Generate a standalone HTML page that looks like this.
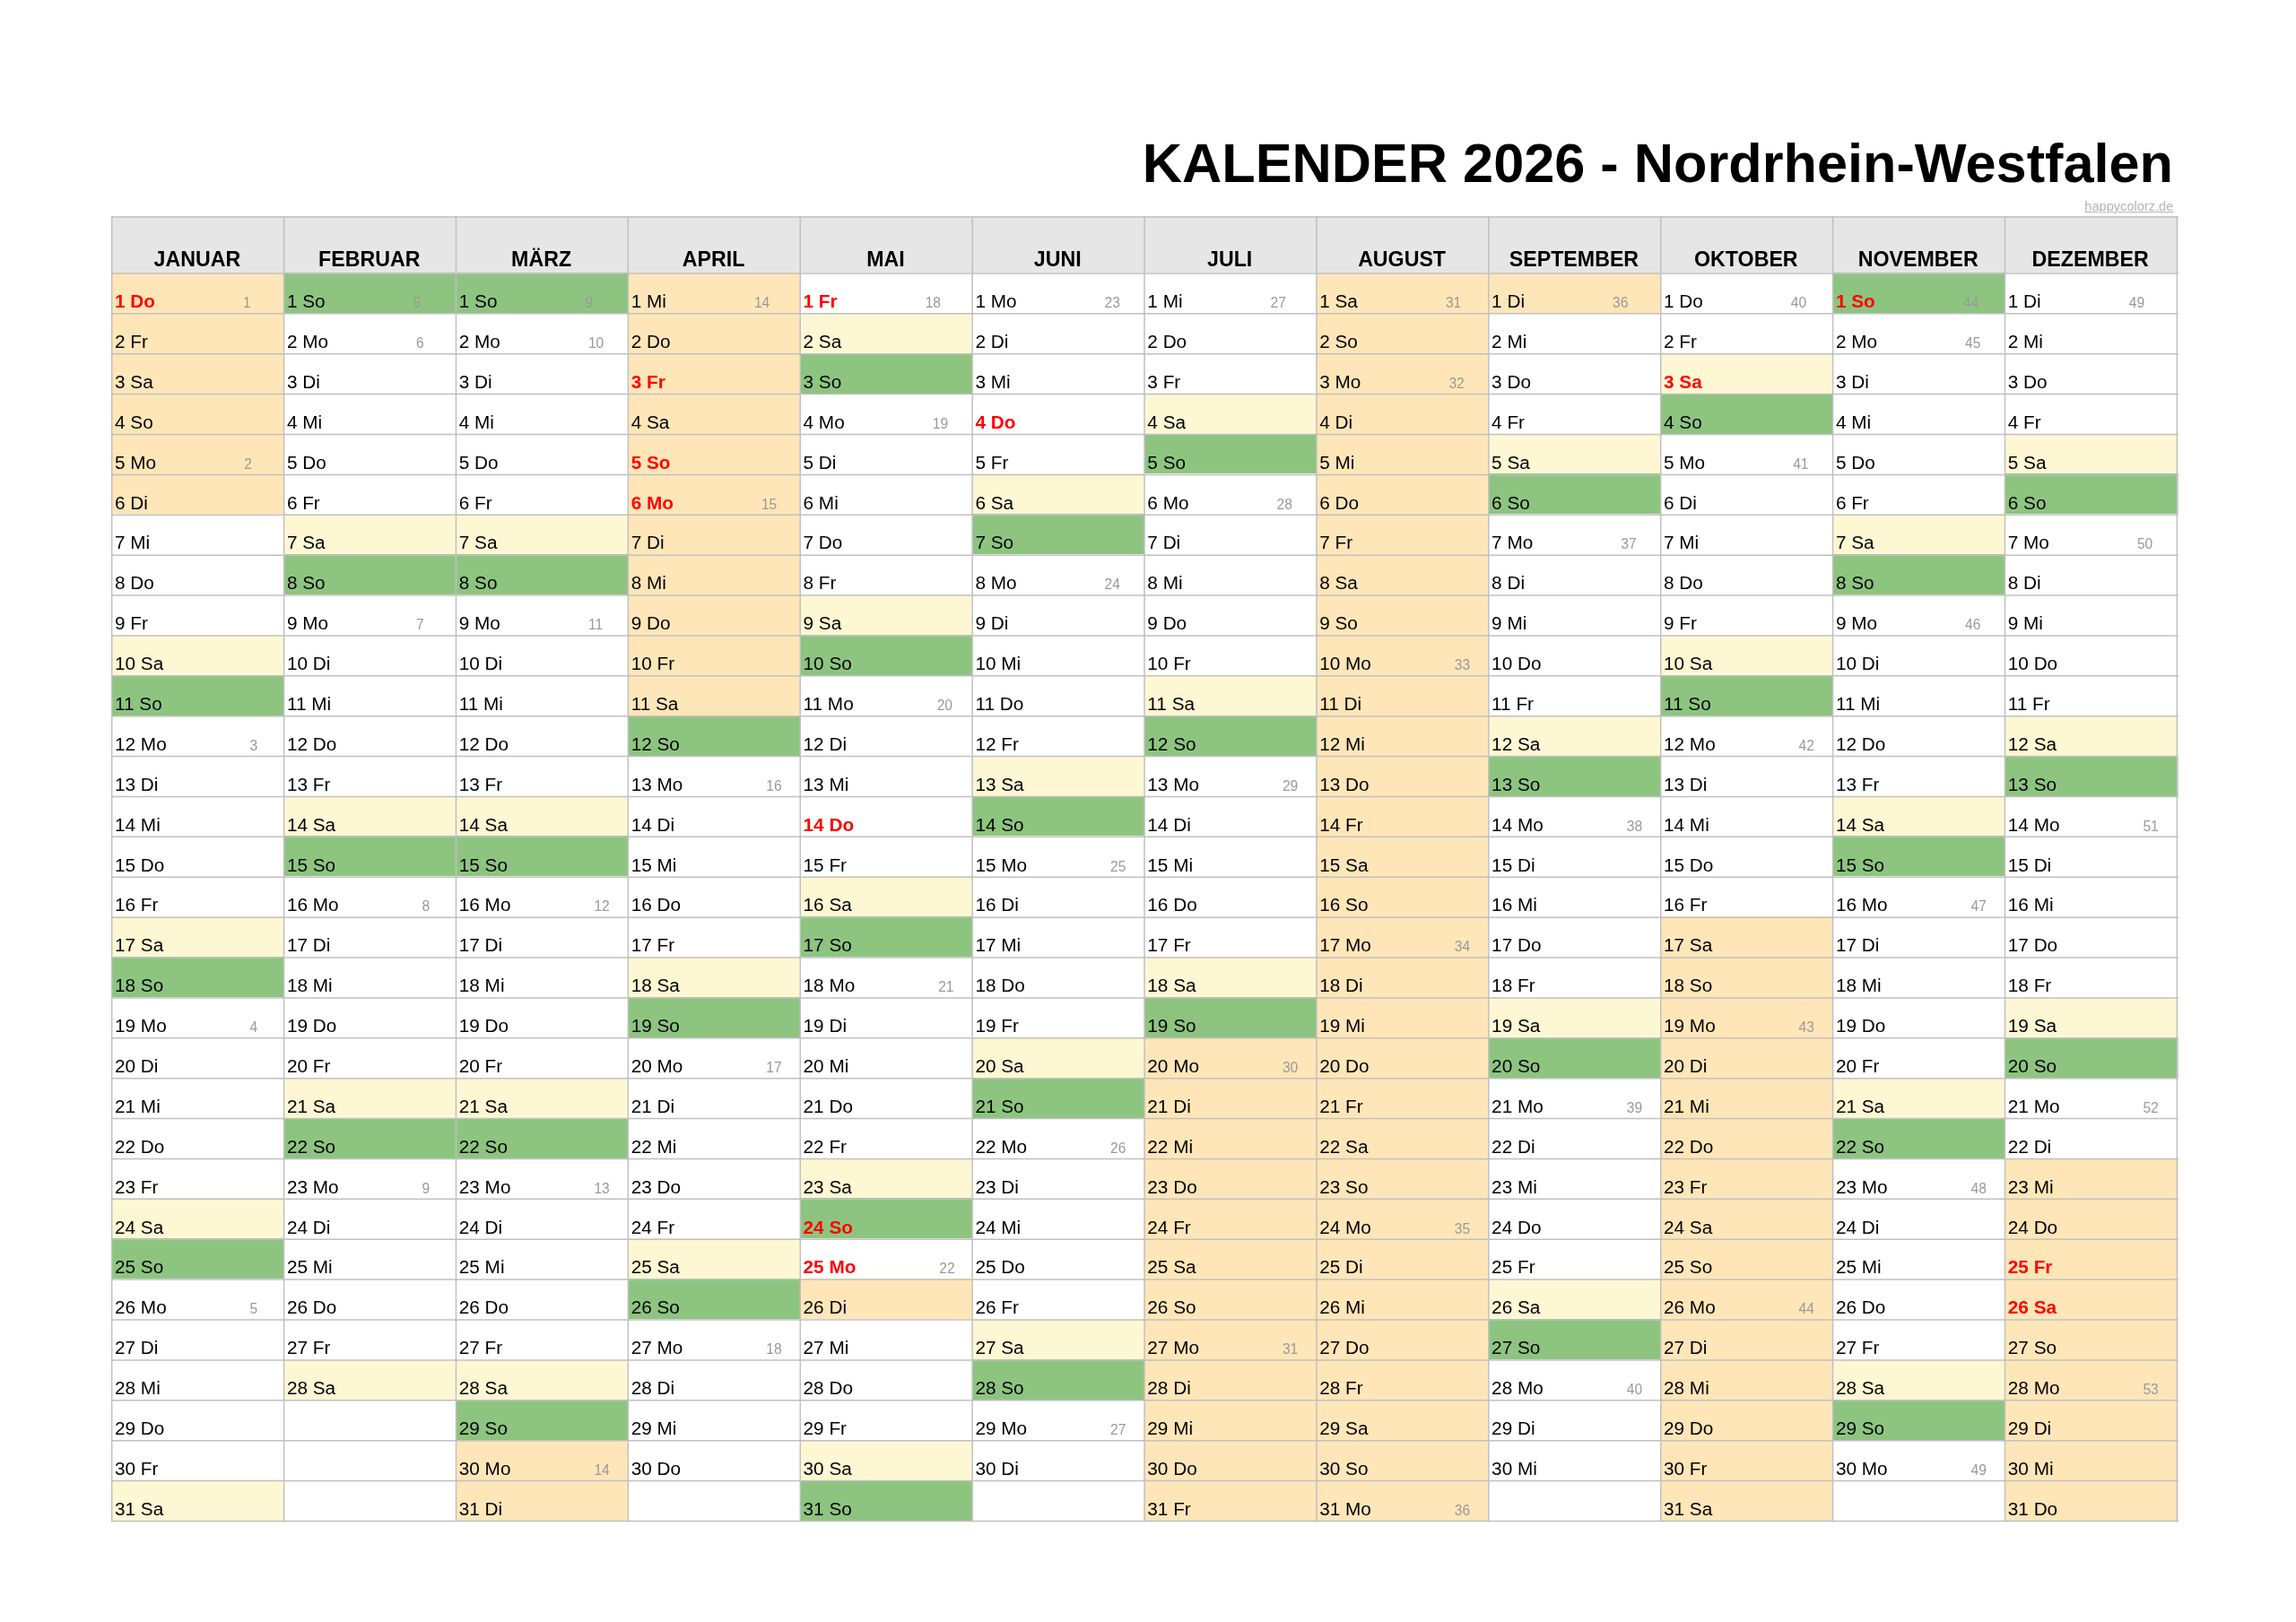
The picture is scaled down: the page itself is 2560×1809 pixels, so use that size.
<!DOCTYPE html>
<html lang="de"><head><meta charset="utf-8"><title>Kalender 2026 - Nordrhein-Westfalen</title>
<style>
html,body{margin:0;padding:0;background:#fff;}
body{width:2560px;height:1809px;position:relative;overflow:hidden;font-family:"Liberation Sans",sans-serif;color:#000;}
.t{position:absolute;white-space:pre;margin:0;padding:0;}
.b{font-weight:bold;}
.r{font-weight:bold;color:#ff0000;}
.w{color:#999999;font-weight:normal;font-size:15.6px;}
.w2{padding-left:0.7px;}
.n{font-weight:normal;}
.c{position:absolute;}
svg{position:absolute;left:0;top:0;}
#txt{position:absolute;left:0;top:0;width:2560px;height:1809px;will-change:transform;}
</style></head><body>
<div class="c" style="left:124px;top:241px;width:2303px;height:63px;background:#e6e6e6"></div>
<div class="c" style="left:124px;top:304px;width:192px;height:45px;background:#ffe6b8"></div>
<div class="c" style="left:124px;top:349px;width:192px;height:45px;background:#ffe6b8"></div>
<div class="c" style="left:124px;top:394px;width:192px;height:45px;background:#ffe6b8"></div>
<div class="c" style="left:124px;top:439px;width:192px;height:45px;background:#ffe6b8"></div>
<div class="c" style="left:124px;top:484px;width:192px;height:44px;background:#ffe6b8"></div>
<div class="c" style="left:124px;top:528px;width:192px;height:45px;background:#ffe6b8"></div>
<div class="c" style="left:124px;top:708px;width:192px;height:45px;background:#fef7d4"></div>
<div class="c" style="left:124px;top:753px;width:192px;height:45px;background:#8dc580"></div>
<div class="c" style="left:124px;top:1022px;width:192px;height:45px;background:#fef7d4"></div>
<div class="c" style="left:124px;top:1067px;width:192px;height:45px;background:#8dc580"></div>
<div class="c" style="left:124px;top:1336px;width:192px;height:45px;background:#fef7d4"></div>
<div class="c" style="left:124px;top:1381px;width:192px;height:45px;background:#8dc580"></div>
<div class="c" style="left:124px;top:1651px;width:192px;height:45px;background:#fef7d4"></div>
<div class="c" style="left:316px;top:304px;width:192px;height:45px;background:#8dc580"></div>
<div class="c" style="left:316px;top:573px;width:192px;height:45px;background:#fef7d4"></div>
<div class="c" style="left:316px;top:618px;width:192px;height:45px;background:#8dc580"></div>
<div class="c" style="left:316px;top:888px;width:192px;height:44px;background:#fef7d4"></div>
<div class="c" style="left:316px;top:932px;width:192px;height:45px;background:#8dc580"></div>
<div class="c" style="left:316px;top:1202px;width:192px;height:45px;background:#fef7d4"></div>
<div class="c" style="left:316px;top:1247px;width:192px;height:45px;background:#8dc580"></div>
<div class="c" style="left:316px;top:1516px;width:192px;height:45px;background:#fef7d4"></div>
<div class="c" style="left:508px;top:304px;width:192px;height:45px;background:#8dc580"></div>
<div class="c" style="left:508px;top:573px;width:192px;height:45px;background:#fef7d4"></div>
<div class="c" style="left:508px;top:618px;width:192px;height:45px;background:#8dc580"></div>
<div class="c" style="left:508px;top:888px;width:192px;height:44px;background:#fef7d4"></div>
<div class="c" style="left:508px;top:932px;width:192px;height:45px;background:#8dc580"></div>
<div class="c" style="left:508px;top:1202px;width:192px;height:45px;background:#fef7d4"></div>
<div class="c" style="left:508px;top:1247px;width:192px;height:45px;background:#8dc580"></div>
<div class="c" style="left:508px;top:1516px;width:192px;height:45px;background:#fef7d4"></div>
<div class="c" style="left:508px;top:1561px;width:192px;height:45px;background:#8dc580"></div>
<div class="c" style="left:508px;top:1606px;width:192px;height:45px;background:#ffe6b8"></div>
<div class="c" style="left:508px;top:1651px;width:192px;height:45px;background:#ffe6b8"></div>
<div class="c" style="left:700px;top:304px;width:192px;height:45px;background:#ffe6b8"></div>
<div class="c" style="left:700px;top:349px;width:192px;height:45px;background:#ffe6b8"></div>
<div class="c" style="left:700px;top:394px;width:192px;height:45px;background:#ffe6b8"></div>
<div class="c" style="left:700px;top:439px;width:192px;height:45px;background:#ffe6b8"></div>
<div class="c" style="left:700px;top:484px;width:192px;height:44px;background:#ffe6b8"></div>
<div class="c" style="left:700px;top:528px;width:192px;height:45px;background:#ffe6b8"></div>
<div class="c" style="left:700px;top:573px;width:192px;height:45px;background:#ffe6b8"></div>
<div class="c" style="left:700px;top:618px;width:192px;height:45px;background:#ffe6b8"></div>
<div class="c" style="left:700px;top:663px;width:192px;height:45px;background:#ffe6b8"></div>
<div class="c" style="left:700px;top:708px;width:192px;height:45px;background:#ffe6b8"></div>
<div class="c" style="left:700px;top:753px;width:192px;height:45px;background:#ffe6b8"></div>
<div class="c" style="left:700px;top:798px;width:192px;height:45px;background:#8dc580"></div>
<div class="c" style="left:700px;top:1067px;width:192px;height:45px;background:#fef7d4"></div>
<div class="c" style="left:700px;top:1112px;width:192px;height:45px;background:#8dc580"></div>
<div class="c" style="left:700px;top:1381px;width:192px;height:45px;background:#fef7d4"></div>
<div class="c" style="left:700px;top:1426px;width:192px;height:45px;background:#8dc580"></div>
<div class="c" style="left:892px;top:349px;width:192px;height:45px;background:#fef7d4"></div>
<div class="c" style="left:892px;top:394px;width:192px;height:45px;background:#8dc580"></div>
<div class="c" style="left:892px;top:663px;width:192px;height:45px;background:#fef7d4"></div>
<div class="c" style="left:892px;top:708px;width:192px;height:45px;background:#8dc580"></div>
<div class="c" style="left:892px;top:977px;width:192px;height:45px;background:#fef7d4"></div>
<div class="c" style="left:892px;top:1022px;width:192px;height:45px;background:#8dc580"></div>
<div class="c" style="left:892px;top:1292px;width:192px;height:44px;background:#fef7d4"></div>
<div class="c" style="left:892px;top:1336px;width:192px;height:45px;background:#8dc580"></div>
<div class="c" style="left:892px;top:1426px;width:192px;height:45px;background:#ffe6b8"></div>
<div class="c" style="left:892px;top:1606px;width:192px;height:45px;background:#fef7d4"></div>
<div class="c" style="left:892px;top:1651px;width:192px;height:45px;background:#8dc580"></div>
<div class="c" style="left:1084px;top:528px;width:192px;height:45px;background:#fef7d4"></div>
<div class="c" style="left:1084px;top:573px;width:192px;height:45px;background:#8dc580"></div>
<div class="c" style="left:1084px;top:843px;width:192px;height:45px;background:#fef7d4"></div>
<div class="c" style="left:1084px;top:888px;width:192px;height:44px;background:#8dc580"></div>
<div class="c" style="left:1084px;top:1157px;width:192px;height:45px;background:#fef7d4"></div>
<div class="c" style="left:1084px;top:1202px;width:192px;height:45px;background:#8dc580"></div>
<div class="c" style="left:1084px;top:1471px;width:192px;height:45px;background:#fef7d4"></div>
<div class="c" style="left:1084px;top:1516px;width:192px;height:45px;background:#8dc580"></div>
<div class="c" style="left:1276px;top:439px;width:192px;height:45px;background:#fef7d4"></div>
<div class="c" style="left:1276px;top:484px;width:192px;height:44px;background:#8dc580"></div>
<div class="c" style="left:1276px;top:753px;width:192px;height:45px;background:#fef7d4"></div>
<div class="c" style="left:1276px;top:798px;width:192px;height:45px;background:#8dc580"></div>
<div class="c" style="left:1276px;top:1067px;width:192px;height:45px;background:#fef7d4"></div>
<div class="c" style="left:1276px;top:1112px;width:192px;height:45px;background:#8dc580"></div>
<div class="c" style="left:1276px;top:1157px;width:192px;height:45px;background:#ffe6b8"></div>
<div class="c" style="left:1276px;top:1202px;width:192px;height:45px;background:#ffe6b8"></div>
<div class="c" style="left:1276px;top:1247px;width:192px;height:45px;background:#ffe6b8"></div>
<div class="c" style="left:1276px;top:1292px;width:192px;height:44px;background:#ffe6b8"></div>
<div class="c" style="left:1276px;top:1336px;width:192px;height:45px;background:#ffe6b8"></div>
<div class="c" style="left:1276px;top:1381px;width:192px;height:45px;background:#ffe6b8"></div>
<div class="c" style="left:1276px;top:1426px;width:192px;height:45px;background:#ffe6b8"></div>
<div class="c" style="left:1276px;top:1471px;width:192px;height:45px;background:#ffe6b8"></div>
<div class="c" style="left:1276px;top:1516px;width:192px;height:45px;background:#ffe6b8"></div>
<div class="c" style="left:1276px;top:1561px;width:192px;height:45px;background:#ffe6b8"></div>
<div class="c" style="left:1276px;top:1606px;width:192px;height:45px;background:#ffe6b8"></div>
<div class="c" style="left:1276px;top:1651px;width:192px;height:45px;background:#ffe6b8"></div>
<div class="c" style="left:1468px;top:304px;width:192px;height:45px;background:#ffe6b8"></div>
<div class="c" style="left:1468px;top:349px;width:192px;height:45px;background:#ffe6b8"></div>
<div class="c" style="left:1468px;top:394px;width:192px;height:45px;background:#ffe6b8"></div>
<div class="c" style="left:1468px;top:439px;width:192px;height:45px;background:#ffe6b8"></div>
<div class="c" style="left:1468px;top:484px;width:192px;height:44px;background:#ffe6b8"></div>
<div class="c" style="left:1468px;top:528px;width:192px;height:45px;background:#ffe6b8"></div>
<div class="c" style="left:1468px;top:573px;width:192px;height:45px;background:#ffe6b8"></div>
<div class="c" style="left:1468px;top:618px;width:192px;height:45px;background:#ffe6b8"></div>
<div class="c" style="left:1468px;top:663px;width:192px;height:45px;background:#ffe6b8"></div>
<div class="c" style="left:1468px;top:708px;width:192px;height:45px;background:#ffe6b8"></div>
<div class="c" style="left:1468px;top:753px;width:192px;height:45px;background:#ffe6b8"></div>
<div class="c" style="left:1468px;top:798px;width:192px;height:45px;background:#ffe6b8"></div>
<div class="c" style="left:1468px;top:843px;width:192px;height:45px;background:#ffe6b8"></div>
<div class="c" style="left:1468px;top:888px;width:192px;height:44px;background:#ffe6b8"></div>
<div class="c" style="left:1468px;top:932px;width:192px;height:45px;background:#ffe6b8"></div>
<div class="c" style="left:1468px;top:977px;width:192px;height:45px;background:#ffe6b8"></div>
<div class="c" style="left:1468px;top:1022px;width:192px;height:45px;background:#ffe6b8"></div>
<div class="c" style="left:1468px;top:1067px;width:192px;height:45px;background:#ffe6b8"></div>
<div class="c" style="left:1468px;top:1112px;width:192px;height:45px;background:#ffe6b8"></div>
<div class="c" style="left:1468px;top:1157px;width:192px;height:45px;background:#ffe6b8"></div>
<div class="c" style="left:1468px;top:1202px;width:192px;height:45px;background:#ffe6b8"></div>
<div class="c" style="left:1468px;top:1247px;width:192px;height:45px;background:#ffe6b8"></div>
<div class="c" style="left:1468px;top:1292px;width:192px;height:44px;background:#ffe6b8"></div>
<div class="c" style="left:1468px;top:1336px;width:192px;height:45px;background:#ffe6b8"></div>
<div class="c" style="left:1468px;top:1381px;width:192px;height:45px;background:#ffe6b8"></div>
<div class="c" style="left:1468px;top:1426px;width:192px;height:45px;background:#ffe6b8"></div>
<div class="c" style="left:1468px;top:1471px;width:192px;height:45px;background:#ffe6b8"></div>
<div class="c" style="left:1468px;top:1516px;width:192px;height:45px;background:#ffe6b8"></div>
<div class="c" style="left:1468px;top:1561px;width:192px;height:45px;background:#ffe6b8"></div>
<div class="c" style="left:1468px;top:1606px;width:192px;height:45px;background:#ffe6b8"></div>
<div class="c" style="left:1468px;top:1651px;width:192px;height:45px;background:#ffe6b8"></div>
<div class="c" style="left:1660px;top:304px;width:191px;height:45px;background:#ffe6b8"></div>
<div class="c" style="left:1660px;top:484px;width:191px;height:44px;background:#fef7d4"></div>
<div class="c" style="left:1660px;top:528px;width:191px;height:45px;background:#8dc580"></div>
<div class="c" style="left:1660px;top:798px;width:191px;height:45px;background:#fef7d4"></div>
<div class="c" style="left:1660px;top:843px;width:191px;height:45px;background:#8dc580"></div>
<div class="c" style="left:1660px;top:1112px;width:191px;height:45px;background:#fef7d4"></div>
<div class="c" style="left:1660px;top:1157px;width:191px;height:45px;background:#8dc580"></div>
<div class="c" style="left:1660px;top:1426px;width:191px;height:45px;background:#fef7d4"></div>
<div class="c" style="left:1660px;top:1471px;width:191px;height:45px;background:#8dc580"></div>
<div class="c" style="left:1851px;top:394px;width:192px;height:45px;background:#fef7d4"></div>
<div class="c" style="left:1851px;top:439px;width:192px;height:45px;background:#8dc580"></div>
<div class="c" style="left:1851px;top:708px;width:192px;height:45px;background:#fef7d4"></div>
<div class="c" style="left:1851px;top:753px;width:192px;height:45px;background:#8dc580"></div>
<div class="c" style="left:1851px;top:1022px;width:192px;height:45px;background:#ffe6b8"></div>
<div class="c" style="left:1851px;top:1067px;width:192px;height:45px;background:#ffe6b8"></div>
<div class="c" style="left:1851px;top:1112px;width:192px;height:45px;background:#ffe6b8"></div>
<div class="c" style="left:1851px;top:1157px;width:192px;height:45px;background:#ffe6b8"></div>
<div class="c" style="left:1851px;top:1202px;width:192px;height:45px;background:#ffe6b8"></div>
<div class="c" style="left:1851px;top:1247px;width:192px;height:45px;background:#ffe6b8"></div>
<div class="c" style="left:1851px;top:1292px;width:192px;height:44px;background:#ffe6b8"></div>
<div class="c" style="left:1851px;top:1336px;width:192px;height:45px;background:#ffe6b8"></div>
<div class="c" style="left:1851px;top:1381px;width:192px;height:45px;background:#ffe6b8"></div>
<div class="c" style="left:1851px;top:1426px;width:192px;height:45px;background:#ffe6b8"></div>
<div class="c" style="left:1851px;top:1471px;width:192px;height:45px;background:#ffe6b8"></div>
<div class="c" style="left:1851px;top:1516px;width:192px;height:45px;background:#ffe6b8"></div>
<div class="c" style="left:1851px;top:1561px;width:192px;height:45px;background:#ffe6b8"></div>
<div class="c" style="left:1851px;top:1606px;width:192px;height:45px;background:#ffe6b8"></div>
<div class="c" style="left:1851px;top:1651px;width:192px;height:45px;background:#ffe6b8"></div>
<div class="c" style="left:2043px;top:304px;width:192px;height:45px;background:#8dc580"></div>
<div class="c" style="left:2043px;top:573px;width:192px;height:45px;background:#fef7d4"></div>
<div class="c" style="left:2043px;top:618px;width:192px;height:45px;background:#8dc580"></div>
<div class="c" style="left:2043px;top:888px;width:192px;height:44px;background:#fef7d4"></div>
<div class="c" style="left:2043px;top:932px;width:192px;height:45px;background:#8dc580"></div>
<div class="c" style="left:2043px;top:1202px;width:192px;height:45px;background:#fef7d4"></div>
<div class="c" style="left:2043px;top:1247px;width:192px;height:45px;background:#8dc580"></div>
<div class="c" style="left:2043px;top:1516px;width:192px;height:45px;background:#fef7d4"></div>
<div class="c" style="left:2043px;top:1561px;width:192px;height:45px;background:#8dc580"></div>
<div class="c" style="left:2235px;top:484px;width:192px;height:44px;background:#fef7d4"></div>
<div class="c" style="left:2235px;top:528px;width:192px;height:45px;background:#8dc580"></div>
<div class="c" style="left:2235px;top:798px;width:192px;height:45px;background:#fef7d4"></div>
<div class="c" style="left:2235px;top:843px;width:192px;height:45px;background:#8dc580"></div>
<div class="c" style="left:2235px;top:1112px;width:192px;height:45px;background:#fef7d4"></div>
<div class="c" style="left:2235px;top:1157px;width:192px;height:45px;background:#8dc580"></div>
<div class="c" style="left:2235px;top:1292px;width:192px;height:44px;background:#ffe6b8"></div>
<div class="c" style="left:2235px;top:1336px;width:192px;height:45px;background:#ffe6b8"></div>
<div class="c" style="left:2235px;top:1381px;width:192px;height:45px;background:#ffe6b8"></div>
<div class="c" style="left:2235px;top:1426px;width:192px;height:45px;background:#ffe6b8"></div>
<div class="c" style="left:2235px;top:1471px;width:192px;height:45px;background:#ffe6b8"></div>
<div class="c" style="left:2235px;top:1516px;width:192px;height:45px;background:#ffe6b8"></div>
<div class="c" style="left:2235px;top:1561px;width:192px;height:45px;background:#ffe6b8"></div>
<div class="c" style="left:2235px;top:1606px;width:192px;height:45px;background:#ffe6b8"></div>
<div class="c" style="left:2235px;top:1651px;width:192px;height:45px;background:#ffe6b8"></div>
<svg width="2560" height="1809" viewBox="0 0 2560 1809"><rect x="2427.38" y="484" width="1.15" height="44" fill="#fef7d4"/><rect x="2427.38" y="528" width="1.15" height="45" fill="#8dc580"/><rect x="2427.38" y="798" width="1.15" height="45" fill="#fef7d4"/><rect x="2427.38" y="843" width="1.15" height="45" fill="#8dc580"/><rect x="2427.38" y="1112" width="1.15" height="45" fill="#fef7d4"/><rect x="2427.38" y="1157" width="1.15" height="45" fill="#8dc580"/><rect x="2427.38" y="1292" width="1.15" height="44" fill="#ffe6b8"/><rect x="2427.38" y="1336" width="1.15" height="45" fill="#ffe6b8"/><rect x="2427.38" y="1381" width="1.15" height="45" fill="#ffe6b8"/><rect x="2427.38" y="1426" width="1.15" height="45" fill="#ffe6b8"/><rect x="2427.38" y="1471" width="1.15" height="45" fill="#ffe6b8"/><rect x="2427.38" y="1516" width="1.15" height="45" fill="#ffe6b8"/><rect x="2427.38" y="1561" width="1.15" height="45" fill="#ffe6b8"/><rect x="2427.38" y="1606" width="1.15" height="45" fill="#ffe6b8"/><rect x="2427.38" y="1651" width="1.15" height="45" fill="#ffe6b8"/><rect x="2427.38" y="241" width="1.15" height="63" fill="#e6e6e6"/><g stroke="#c0c0c0" stroke-width="1.5" fill="none"><line x1="124.70" y1="241.35" x2="124.70" y2="1697.20"/><line x1="316.59" y1="241.35" x2="316.59" y2="1697.20"/><line x1="508.48" y1="241.35" x2="508.48" y2="1697.20"/><line x1="700.37" y1="241.35" x2="700.37" y2="1697.20"/><line x1="892.26" y1="241.35" x2="892.26" y2="1697.20"/><line x1="1084.15" y1="241.35" x2="1084.15" y2="1697.20"/><line x1="1276.04" y1="241.35" x2="1276.04" y2="1697.20"/><line x1="1467.93" y1="241.35" x2="1467.93" y2="1697.20"/><line x1="1659.82" y1="241.35" x2="1659.82" y2="1697.20"/><line x1="1851.71" y1="241.35" x2="1851.71" y2="1697.20"/><line x1="2043.60" y1="241.35" x2="2043.60" y2="1697.20"/><line x1="2235.49" y1="241.35" x2="2235.49" y2="1697.20"/><line x1="2427.38" y1="241.35" x2="2427.38" y2="1697.20"/><line x1="123.95" y1="242.10" x2="2429.03" y2="242.10"/><line x1="123.95" y1="304.95" x2="2429.03" y2="304.95"/><line x1="123.95" y1="349.84" x2="2429.03" y2="349.84"/><line x1="123.95" y1="394.72" x2="2429.03" y2="394.72"/><line x1="123.95" y1="439.61" x2="2429.03" y2="439.61"/><line x1="123.95" y1="484.50" x2="2429.03" y2="484.50"/><line x1="123.95" y1="529.38" x2="2429.03" y2="529.38"/><line x1="123.95" y1="574.27" x2="2429.03" y2="574.27"/><line x1="123.95" y1="619.16" x2="2429.03" y2="619.16"/><line x1="123.95" y1="664.05" x2="2429.03" y2="664.05"/><line x1="123.95" y1="708.93" x2="2429.03" y2="708.93"/><line x1="123.95" y1="753.82" x2="2429.03" y2="753.82"/><line x1="123.95" y1="798.71" x2="2429.03" y2="798.71"/><line x1="123.95" y1="843.59" x2="2429.03" y2="843.59"/><line x1="123.95" y1="888.48" x2="2429.03" y2="888.48"/><line x1="123.95" y1="933.37" x2="2429.03" y2="933.37"/><line x1="123.95" y1="978.26" x2="2429.03" y2="978.26"/><line x1="123.95" y1="1023.14" x2="2429.03" y2="1023.14"/><line x1="123.95" y1="1068.03" x2="2429.03" y2="1068.03"/><line x1="123.95" y1="1112.92" x2="2429.03" y2="1112.92"/><line x1="123.95" y1="1157.80" x2="2429.03" y2="1157.80"/><line x1="123.95" y1="1202.69" x2="2429.03" y2="1202.69"/><line x1="123.95" y1="1247.58" x2="2429.03" y2="1247.58"/><line x1="123.95" y1="1292.46" x2="2429.03" y2="1292.46"/><line x1="123.95" y1="1337.35" x2="2429.03" y2="1337.35"/><line x1="123.95" y1="1382.24" x2="2429.03" y2="1382.24"/><line x1="123.95" y1="1427.12" x2="2429.03" y2="1427.12"/><line x1="123.95" y1="1472.01" x2="2429.03" y2="1472.01"/><line x1="123.95" y1="1516.90" x2="2429.03" y2="1516.90"/><line x1="123.95" y1="1561.79" x2="2429.03" y2="1561.79"/><line x1="123.95" y1="1606.67" x2="2429.03" y2="1606.67"/><line x1="123.95" y1="1651.56" x2="2429.03" y2="1651.56"/><line x1="123.95" y1="1696.45" x2="2429.03" y2="1696.45"/></g></svg>
<div id="txt">
<div class="t b" style="right:137.00px;top:146px;font-size:61.25px;line-height:72px;">KALENDER 2026 - Nordrhein-Westfalen</div>
<div class="t " style="right:136.70px;top:220px;font-size:14.6px;line-height:20px;color:#b3b3b3;text-decoration:underline;">happycolorz.de</div>
<div class="t b" style="left:19.84px;width:400px;text-align:center;top:274px;font-size:23.2px;line-height:30px;">JANUAR</div>
<div class="t b" style="left:211.73px;width:400px;text-align:center;top:274px;font-size:23.2px;line-height:30px;">FEBRUAR</div>
<div class="t b" style="left:403.62px;width:400px;text-align:center;top:274px;font-size:23.2px;line-height:30px;">MÄRZ</div>
<div class="t b" style="left:595.52px;width:400px;text-align:center;top:274px;font-size:23.2px;line-height:30px;">APRIL</div>
<div class="t b" style="left:787.40px;width:400px;text-align:center;top:274px;font-size:23.2px;line-height:30px;">MAI</div>
<div class="t b" style="left:979.29px;width:400px;text-align:center;top:274px;font-size:23.2px;line-height:30px;">JUNI</div>
<div class="t b" style="left:1171.19px;width:400px;text-align:center;top:274px;font-size:23.2px;line-height:30px;">JULI</div>
<div class="t b" style="left:1363.08px;width:400px;text-align:center;top:274px;font-size:23.2px;line-height:30px;">AUGUST</div>
<div class="t b" style="left:1554.96px;width:400px;text-align:center;top:274px;font-size:23.2px;line-height:30px;">SEPTEMBER</div>
<div class="t b" style="left:1746.85px;width:400px;text-align:center;top:274px;font-size:23.2px;line-height:30px;">OKTOBER</div>
<div class="t b" style="left:1938.74px;width:400px;text-align:center;top:274px;font-size:23.2px;line-height:30px;">NOVEMBER</div>
<div class="t b" style="left:2130.63px;width:400px;text-align:center;top:274px;font-size:23.2px;line-height:30px;">DEZEMBER</div>
<div class="t r" style="left:128.00px;top:322px;font-size:20.75px;line-height:27px;">1 Do<span class="n">                 </span><span class="w">1</span></div>
<div class="t " style="left:128.00px;top:367px;font-size:20.75px;line-height:27px;">2 Fr</div>
<div class="t " style="left:128.00px;top:412px;font-size:20.75px;line-height:27px;">3 Sa</div>
<div class="t " style="left:128.00px;top:457px;font-size:20.75px;line-height:27px;">4 So</div>
<div class="t " style="left:128.00px;top:502px;font-size:20.75px;line-height:27px;">5 Mo<span class="n">                 </span><span class="w">2</span></div>
<div class="t " style="left:128.00px;top:547px;font-size:20.75px;line-height:27px;">6 Di</div>
<div class="t " style="left:128.00px;top:591px;font-size:20.75px;line-height:27px;">7 Mi</div>
<div class="t " style="left:128.00px;top:636px;font-size:20.75px;line-height:27px;">8 Do</div>
<div class="t " style="left:128.00px;top:681px;font-size:20.75px;line-height:27px;">9 Fr</div>
<div class="t " style="left:128.00px;top:726px;font-size:20.75px;line-height:27px;">10 Sa</div>
<div class="t " style="left:128.00px;top:771px;font-size:20.75px;line-height:27px;">11 So</div>
<div class="t " style="left:128.00px;top:816px;font-size:20.75px;line-height:27px;">12 Mo<span class="n">                </span><span class="w w2">3</span></div>
<div class="t " style="left:128.00px;top:861px;font-size:20.75px;line-height:27px;">13 Di</div>
<div class="t " style="left:128.00px;top:906px;font-size:20.75px;line-height:27px;">14 Mi</div>
<div class="t " style="left:128.00px;top:951px;font-size:20.75px;line-height:27px;">15 Do</div>
<div class="t " style="left:128.00px;top:995px;font-size:20.75px;line-height:27px;">16 Fr</div>
<div class="t " style="left:128.00px;top:1040px;font-size:20.75px;line-height:27px;">17 Sa</div>
<div class="t " style="left:128.00px;top:1085px;font-size:20.75px;line-height:27px;">18 So</div>
<div class="t " style="left:128.00px;top:1130px;font-size:20.75px;line-height:27px;">19 Mo<span class="n">                </span><span class="w w2">4</span></div>
<div class="t " style="left:128.00px;top:1175px;font-size:20.75px;line-height:27px;">20 Di</div>
<div class="t " style="left:128.00px;top:1220px;font-size:20.75px;line-height:27px;">21 Mi</div>
<div class="t " style="left:128.00px;top:1265px;font-size:20.75px;line-height:27px;">22 Do</div>
<div class="t " style="left:128.00px;top:1310px;font-size:20.75px;line-height:27px;">23 Fr</div>
<div class="t " style="left:128.00px;top:1355px;font-size:20.75px;line-height:27px;">24 Sa</div>
<div class="t " style="left:128.00px;top:1399px;font-size:20.75px;line-height:27px;">25 So</div>
<div class="t " style="left:128.00px;top:1444px;font-size:20.75px;line-height:27px;">26 Mo<span class="n">                </span><span class="w w2">5</span></div>
<div class="t " style="left:128.00px;top:1489px;font-size:20.75px;line-height:27px;">27 Di</div>
<div class="t " style="left:128.00px;top:1534px;font-size:20.75px;line-height:27px;">28 Mi</div>
<div class="t " style="left:128.00px;top:1579px;font-size:20.75px;line-height:27px;">29 Do</div>
<div class="t " style="left:128.00px;top:1624px;font-size:20.75px;line-height:27px;">30 Fr</div>
<div class="t " style="left:128.00px;top:1669px;font-size:20.75px;line-height:27px;">31 Sa</div>
<div class="t " style="left:319.89px;top:322px;font-size:20.75px;line-height:27px;">1 So<span class="n">                 </span><span class="w">5</span></div>
<div class="t " style="left:319.89px;top:367px;font-size:20.75px;line-height:27px;">2 Mo<span class="n">                 </span><span class="w">6</span></div>
<div class="t " style="left:319.89px;top:412px;font-size:20.75px;line-height:27px;">3 Di</div>
<div class="t " style="left:319.89px;top:457px;font-size:20.75px;line-height:27px;">4 Mi</div>
<div class="t " style="left:319.89px;top:502px;font-size:20.75px;line-height:27px;">5 Do</div>
<div class="t " style="left:319.89px;top:547px;font-size:20.75px;line-height:27px;">6 Fr</div>
<div class="t " style="left:319.89px;top:591px;font-size:20.75px;line-height:27px;">7 Sa</div>
<div class="t " style="left:319.89px;top:636px;font-size:20.75px;line-height:27px;">8 So</div>
<div class="t " style="left:319.89px;top:681px;font-size:20.75px;line-height:27px;">9 Mo<span class="n">                 </span><span class="w">7</span></div>
<div class="t " style="left:319.89px;top:726px;font-size:20.75px;line-height:27px;">10 Di</div>
<div class="t " style="left:319.89px;top:771px;font-size:20.75px;line-height:27px;">11 Mi</div>
<div class="t " style="left:319.89px;top:816px;font-size:20.75px;line-height:27px;">12 Do</div>
<div class="t " style="left:319.89px;top:861px;font-size:20.75px;line-height:27px;">13 Fr</div>
<div class="t " style="left:319.89px;top:906px;font-size:20.75px;line-height:27px;">14 Sa</div>
<div class="t " style="left:319.89px;top:951px;font-size:20.75px;line-height:27px;">15 So</div>
<div class="t " style="left:319.89px;top:995px;font-size:20.75px;line-height:27px;">16 Mo<span class="n">                </span><span class="w w2">8</span></div>
<div class="t " style="left:319.89px;top:1040px;font-size:20.75px;line-height:27px;">17 Di</div>
<div class="t " style="left:319.89px;top:1085px;font-size:20.75px;line-height:27px;">18 Mi</div>
<div class="t " style="left:319.89px;top:1130px;font-size:20.75px;line-height:27px;">19 Do</div>
<div class="t " style="left:319.89px;top:1175px;font-size:20.75px;line-height:27px;">20 Fr</div>
<div class="t " style="left:319.89px;top:1220px;font-size:20.75px;line-height:27px;">21 Sa</div>
<div class="t " style="left:319.89px;top:1265px;font-size:20.75px;line-height:27px;">22 So</div>
<div class="t " style="left:319.89px;top:1310px;font-size:20.75px;line-height:27px;">23 Mo<span class="n">                </span><span class="w w2">9</span></div>
<div class="t " style="left:319.89px;top:1355px;font-size:20.75px;line-height:27px;">24 Di</div>
<div class="t " style="left:319.89px;top:1399px;font-size:20.75px;line-height:27px;">25 Mi</div>
<div class="t " style="left:319.89px;top:1444px;font-size:20.75px;line-height:27px;">26 Do</div>
<div class="t " style="left:319.89px;top:1489px;font-size:20.75px;line-height:27px;">27 Fr</div>
<div class="t " style="left:319.89px;top:1534px;font-size:20.75px;line-height:27px;">28 Sa</div>
<div class="t " style="left:511.78px;top:322px;font-size:20.75px;line-height:27px;">1 So<span class="n">                 </span><span class="w">9</span></div>
<div class="t " style="left:511.78px;top:367px;font-size:20.75px;line-height:27px;">2 Mo<span class="n">                 </span><span class="w">10</span></div>
<div class="t " style="left:511.78px;top:412px;font-size:20.75px;line-height:27px;">3 Di</div>
<div class="t " style="left:511.78px;top:457px;font-size:20.75px;line-height:27px;">4 Mi</div>
<div class="t " style="left:511.78px;top:502px;font-size:20.75px;line-height:27px;">5 Do</div>
<div class="t " style="left:511.78px;top:547px;font-size:20.75px;line-height:27px;">6 Fr</div>
<div class="t " style="left:511.78px;top:591px;font-size:20.75px;line-height:27px;">7 Sa</div>
<div class="t " style="left:511.78px;top:636px;font-size:20.75px;line-height:27px;">8 So</div>
<div class="t " style="left:511.78px;top:681px;font-size:20.75px;line-height:27px;">9 Mo<span class="n">                 </span><span class="w">11</span></div>
<div class="t " style="left:511.78px;top:726px;font-size:20.75px;line-height:27px;">10 Di</div>
<div class="t " style="left:511.78px;top:771px;font-size:20.75px;line-height:27px;">11 Mi</div>
<div class="t " style="left:511.78px;top:816px;font-size:20.75px;line-height:27px;">12 Do</div>
<div class="t " style="left:511.78px;top:861px;font-size:20.75px;line-height:27px;">13 Fr</div>
<div class="t " style="left:511.78px;top:906px;font-size:20.75px;line-height:27px;">14 Sa</div>
<div class="t " style="left:511.78px;top:951px;font-size:20.75px;line-height:27px;">15 So</div>
<div class="t " style="left:511.78px;top:995px;font-size:20.75px;line-height:27px;">16 Mo<span class="n">                </span><span class="w w2">12</span></div>
<div class="t " style="left:511.78px;top:1040px;font-size:20.75px;line-height:27px;">17 Di</div>
<div class="t " style="left:511.78px;top:1085px;font-size:20.75px;line-height:27px;">18 Mi</div>
<div class="t " style="left:511.78px;top:1130px;font-size:20.75px;line-height:27px;">19 Do</div>
<div class="t " style="left:511.78px;top:1175px;font-size:20.75px;line-height:27px;">20 Fr</div>
<div class="t " style="left:511.78px;top:1220px;font-size:20.75px;line-height:27px;">21 Sa</div>
<div class="t " style="left:511.78px;top:1265px;font-size:20.75px;line-height:27px;">22 So</div>
<div class="t " style="left:511.78px;top:1310px;font-size:20.75px;line-height:27px;">23 Mo<span class="n">                </span><span class="w w2">13</span></div>
<div class="t " style="left:511.78px;top:1355px;font-size:20.75px;line-height:27px;">24 Di</div>
<div class="t " style="left:511.78px;top:1399px;font-size:20.75px;line-height:27px;">25 Mi</div>
<div class="t " style="left:511.78px;top:1444px;font-size:20.75px;line-height:27px;">26 Do</div>
<div class="t " style="left:511.78px;top:1489px;font-size:20.75px;line-height:27px;">27 Fr</div>
<div class="t " style="left:511.78px;top:1534px;font-size:20.75px;line-height:27px;">28 Sa</div>
<div class="t " style="left:511.78px;top:1579px;font-size:20.75px;line-height:27px;">29 So</div>
<div class="t " style="left:511.78px;top:1624px;font-size:20.75px;line-height:27px;">30 Mo<span class="n">                </span><span class="w w2">14</span></div>
<div class="t " style="left:511.78px;top:1669px;font-size:20.75px;line-height:27px;">31 Di</div>
<div class="t " style="left:703.67px;top:322px;font-size:20.75px;line-height:27px;">1 Mi<span class="n">                 </span><span class="w">14</span></div>
<div class="t " style="left:703.67px;top:367px;font-size:20.75px;line-height:27px;">2 Do</div>
<div class="t r" style="left:703.67px;top:412px;font-size:20.75px;line-height:27px;">3 Fr</div>
<div class="t " style="left:703.67px;top:457px;font-size:20.75px;line-height:27px;">4 Sa</div>
<div class="t r" style="left:703.67px;top:502px;font-size:20.75px;line-height:27px;">5 So</div>
<div class="t r" style="left:703.67px;top:547px;font-size:20.75px;line-height:27px;">6 Mo<span class="n">                 </span><span class="w">15</span></div>
<div class="t " style="left:703.67px;top:591px;font-size:20.75px;line-height:27px;">7 Di</div>
<div class="t " style="left:703.67px;top:636px;font-size:20.75px;line-height:27px;">8 Mi</div>
<div class="t " style="left:703.67px;top:681px;font-size:20.75px;line-height:27px;">9 Do</div>
<div class="t " style="left:703.67px;top:726px;font-size:20.75px;line-height:27px;">10 Fr</div>
<div class="t " style="left:703.67px;top:771px;font-size:20.75px;line-height:27px;">11 Sa</div>
<div class="t " style="left:703.67px;top:816px;font-size:20.75px;line-height:27px;">12 So</div>
<div class="t " style="left:703.67px;top:861px;font-size:20.75px;line-height:27px;">13 Mo<span class="n">                </span><span class="w w2">16</span></div>
<div class="t " style="left:703.67px;top:906px;font-size:20.75px;line-height:27px;">14 Di</div>
<div class="t " style="left:703.67px;top:951px;font-size:20.75px;line-height:27px;">15 Mi</div>
<div class="t " style="left:703.67px;top:995px;font-size:20.75px;line-height:27px;">16 Do</div>
<div class="t " style="left:703.67px;top:1040px;font-size:20.75px;line-height:27px;">17 Fr</div>
<div class="t " style="left:703.67px;top:1085px;font-size:20.75px;line-height:27px;">18 Sa</div>
<div class="t " style="left:703.67px;top:1130px;font-size:20.75px;line-height:27px;">19 So</div>
<div class="t " style="left:703.67px;top:1175px;font-size:20.75px;line-height:27px;">20 Mo<span class="n">                </span><span class="w w2">17</span></div>
<div class="t " style="left:703.67px;top:1220px;font-size:20.75px;line-height:27px;">21 Di</div>
<div class="t " style="left:703.67px;top:1265px;font-size:20.75px;line-height:27px;">22 Mi</div>
<div class="t " style="left:703.67px;top:1310px;font-size:20.75px;line-height:27px;">23 Do</div>
<div class="t " style="left:703.67px;top:1355px;font-size:20.75px;line-height:27px;">24 Fr</div>
<div class="t " style="left:703.67px;top:1399px;font-size:20.75px;line-height:27px;">25 Sa</div>
<div class="t " style="left:703.67px;top:1444px;font-size:20.75px;line-height:27px;">26 So</div>
<div class="t " style="left:703.67px;top:1489px;font-size:20.75px;line-height:27px;">27 Mo<span class="n">                </span><span class="w w2">18</span></div>
<div class="t " style="left:703.67px;top:1534px;font-size:20.75px;line-height:27px;">28 Di</div>
<div class="t " style="left:703.67px;top:1579px;font-size:20.75px;line-height:27px;">29 Mi</div>
<div class="t " style="left:703.67px;top:1624px;font-size:20.75px;line-height:27px;">30 Do</div>
<div class="t r" style="left:895.56px;top:322px;font-size:20.75px;line-height:27px;">1 Fr<span class="n">                 </span><span class="w">18</span></div>
<div class="t " style="left:895.56px;top:367px;font-size:20.75px;line-height:27px;">2 Sa</div>
<div class="t " style="left:895.56px;top:412px;font-size:20.75px;line-height:27px;">3 So</div>
<div class="t " style="left:895.56px;top:457px;font-size:20.75px;line-height:27px;">4 Mo<span class="n">                 </span><span class="w">19</span></div>
<div class="t " style="left:895.56px;top:502px;font-size:20.75px;line-height:27px;">5 Di</div>
<div class="t " style="left:895.56px;top:547px;font-size:20.75px;line-height:27px;">6 Mi</div>
<div class="t " style="left:895.56px;top:591px;font-size:20.75px;line-height:27px;">7 Do</div>
<div class="t " style="left:895.56px;top:636px;font-size:20.75px;line-height:27px;">8 Fr</div>
<div class="t " style="left:895.56px;top:681px;font-size:20.75px;line-height:27px;">9 Sa</div>
<div class="t " style="left:895.56px;top:726px;font-size:20.75px;line-height:27px;">10 So</div>
<div class="t " style="left:895.56px;top:771px;font-size:20.75px;line-height:27px;">11 Mo<span class="n">                </span><span class="w w2">20</span></div>
<div class="t " style="left:895.56px;top:816px;font-size:20.75px;line-height:27px;">12 Di</div>
<div class="t " style="left:895.56px;top:861px;font-size:20.75px;line-height:27px;">13 Mi</div>
<div class="t r" style="left:895.56px;top:906px;font-size:20.75px;line-height:27px;">14 Do</div>
<div class="t " style="left:895.56px;top:951px;font-size:20.75px;line-height:27px;">15 Fr</div>
<div class="t " style="left:895.56px;top:995px;font-size:20.75px;line-height:27px;">16 Sa</div>
<div class="t " style="left:895.56px;top:1040px;font-size:20.75px;line-height:27px;">17 So</div>
<div class="t " style="left:895.56px;top:1085px;font-size:20.75px;line-height:27px;">18 Mo<span class="n">                </span><span class="w w2">21</span></div>
<div class="t " style="left:895.56px;top:1130px;font-size:20.75px;line-height:27px;">19 Di</div>
<div class="t " style="left:895.56px;top:1175px;font-size:20.75px;line-height:27px;">20 Mi</div>
<div class="t " style="left:895.56px;top:1220px;font-size:20.75px;line-height:27px;">21 Do</div>
<div class="t " style="left:895.56px;top:1265px;font-size:20.75px;line-height:27px;">22 Fr</div>
<div class="t " style="left:895.56px;top:1310px;font-size:20.75px;line-height:27px;">23 Sa</div>
<div class="t r" style="left:895.56px;top:1355px;font-size:20.75px;line-height:27px;">24 So</div>
<div class="t r" style="left:895.56px;top:1399px;font-size:20.75px;line-height:27px;">25 Mo<span class="n">                </span><span class="w w2">22</span></div>
<div class="t " style="left:895.56px;top:1444px;font-size:20.75px;line-height:27px;">26 Di</div>
<div class="t " style="left:895.56px;top:1489px;font-size:20.75px;line-height:27px;">27 Mi</div>
<div class="t " style="left:895.56px;top:1534px;font-size:20.75px;line-height:27px;">28 Do</div>
<div class="t " style="left:895.56px;top:1579px;font-size:20.75px;line-height:27px;">29 Fr</div>
<div class="t " style="left:895.56px;top:1624px;font-size:20.75px;line-height:27px;">30 Sa</div>
<div class="t " style="left:895.56px;top:1669px;font-size:20.75px;line-height:27px;">31 So</div>
<div class="t " style="left:1087.45px;top:322px;font-size:20.75px;line-height:27px;">1 Mo<span class="n">                 </span><span class="w">23</span></div>
<div class="t " style="left:1087.45px;top:367px;font-size:20.75px;line-height:27px;">2 Di</div>
<div class="t " style="left:1087.45px;top:412px;font-size:20.75px;line-height:27px;">3 Mi</div>
<div class="t r" style="left:1087.45px;top:457px;font-size:20.75px;line-height:27px;">4 Do</div>
<div class="t " style="left:1087.45px;top:502px;font-size:20.75px;line-height:27px;">5 Fr</div>
<div class="t " style="left:1087.45px;top:547px;font-size:20.75px;line-height:27px;">6 Sa</div>
<div class="t " style="left:1087.45px;top:591px;font-size:20.75px;line-height:27px;">7 So</div>
<div class="t " style="left:1087.45px;top:636px;font-size:20.75px;line-height:27px;">8 Mo<span class="n">                 </span><span class="w">24</span></div>
<div class="t " style="left:1087.45px;top:681px;font-size:20.75px;line-height:27px;">9 Di</div>
<div class="t " style="left:1087.45px;top:726px;font-size:20.75px;line-height:27px;">10 Mi</div>
<div class="t " style="left:1087.45px;top:771px;font-size:20.75px;line-height:27px;">11 Do</div>
<div class="t " style="left:1087.45px;top:816px;font-size:20.75px;line-height:27px;">12 Fr</div>
<div class="t " style="left:1087.45px;top:861px;font-size:20.75px;line-height:27px;">13 Sa</div>
<div class="t " style="left:1087.45px;top:906px;font-size:20.75px;line-height:27px;">14 So</div>
<div class="t " style="left:1087.45px;top:951px;font-size:20.75px;line-height:27px;">15 Mo<span class="n">                </span><span class="w w2">25</span></div>
<div class="t " style="left:1087.45px;top:995px;font-size:20.75px;line-height:27px;">16 Di</div>
<div class="t " style="left:1087.45px;top:1040px;font-size:20.75px;line-height:27px;">17 Mi</div>
<div class="t " style="left:1087.45px;top:1085px;font-size:20.75px;line-height:27px;">18 Do</div>
<div class="t " style="left:1087.45px;top:1130px;font-size:20.75px;line-height:27px;">19 Fr</div>
<div class="t " style="left:1087.45px;top:1175px;font-size:20.75px;line-height:27px;">20 Sa</div>
<div class="t " style="left:1087.45px;top:1220px;font-size:20.75px;line-height:27px;">21 So</div>
<div class="t " style="left:1087.45px;top:1265px;font-size:20.75px;line-height:27px;">22 Mo<span class="n">                </span><span class="w w2">26</span></div>
<div class="t " style="left:1087.45px;top:1310px;font-size:20.75px;line-height:27px;">23 Di</div>
<div class="t " style="left:1087.45px;top:1355px;font-size:20.75px;line-height:27px;">24 Mi</div>
<div class="t " style="left:1087.45px;top:1399px;font-size:20.75px;line-height:27px;">25 Do</div>
<div class="t " style="left:1087.45px;top:1444px;font-size:20.75px;line-height:27px;">26 Fr</div>
<div class="t " style="left:1087.45px;top:1489px;font-size:20.75px;line-height:27px;">27 Sa</div>
<div class="t " style="left:1087.45px;top:1534px;font-size:20.75px;line-height:27px;">28 So</div>
<div class="t " style="left:1087.45px;top:1579px;font-size:20.75px;line-height:27px;">29 Mo<span class="n">                </span><span class="w w2">27</span></div>
<div class="t " style="left:1087.45px;top:1624px;font-size:20.75px;line-height:27px;">30 Di</div>
<div class="t " style="left:1279.34px;top:322px;font-size:20.75px;line-height:27px;">1 Mi<span class="n">                 </span><span class="w">27</span></div>
<div class="t " style="left:1279.34px;top:367px;font-size:20.75px;line-height:27px;">2 Do</div>
<div class="t " style="left:1279.34px;top:412px;font-size:20.75px;line-height:27px;">3 Fr</div>
<div class="t " style="left:1279.34px;top:457px;font-size:20.75px;line-height:27px;">4 Sa</div>
<div class="t " style="left:1279.34px;top:502px;font-size:20.75px;line-height:27px;">5 So</div>
<div class="t " style="left:1279.34px;top:547px;font-size:20.75px;line-height:27px;">6 Mo<span class="n">                 </span><span class="w">28</span></div>
<div class="t " style="left:1279.34px;top:591px;font-size:20.75px;line-height:27px;">7 Di</div>
<div class="t " style="left:1279.34px;top:636px;font-size:20.75px;line-height:27px;">8 Mi</div>
<div class="t " style="left:1279.34px;top:681px;font-size:20.75px;line-height:27px;">9 Do</div>
<div class="t " style="left:1279.34px;top:726px;font-size:20.75px;line-height:27px;">10 Fr</div>
<div class="t " style="left:1279.34px;top:771px;font-size:20.75px;line-height:27px;">11 Sa</div>
<div class="t " style="left:1279.34px;top:816px;font-size:20.75px;line-height:27px;">12 So</div>
<div class="t " style="left:1279.34px;top:861px;font-size:20.75px;line-height:27px;">13 Mo<span class="n">                </span><span class="w w2">29</span></div>
<div class="t " style="left:1279.34px;top:906px;font-size:20.75px;line-height:27px;">14 Di</div>
<div class="t " style="left:1279.34px;top:951px;font-size:20.75px;line-height:27px;">15 Mi</div>
<div class="t " style="left:1279.34px;top:995px;font-size:20.75px;line-height:27px;">16 Do</div>
<div class="t " style="left:1279.34px;top:1040px;font-size:20.75px;line-height:27px;">17 Fr</div>
<div class="t " style="left:1279.34px;top:1085px;font-size:20.75px;line-height:27px;">18 Sa</div>
<div class="t " style="left:1279.34px;top:1130px;font-size:20.75px;line-height:27px;">19 So</div>
<div class="t " style="left:1279.34px;top:1175px;font-size:20.75px;line-height:27px;">20 Mo<span class="n">                </span><span class="w w2">30</span></div>
<div class="t " style="left:1279.34px;top:1220px;font-size:20.75px;line-height:27px;">21 Di</div>
<div class="t " style="left:1279.34px;top:1265px;font-size:20.75px;line-height:27px;">22 Mi</div>
<div class="t " style="left:1279.34px;top:1310px;font-size:20.75px;line-height:27px;">23 Do</div>
<div class="t " style="left:1279.34px;top:1355px;font-size:20.75px;line-height:27px;">24 Fr</div>
<div class="t " style="left:1279.34px;top:1399px;font-size:20.75px;line-height:27px;">25 Sa</div>
<div class="t " style="left:1279.34px;top:1444px;font-size:20.75px;line-height:27px;">26 So</div>
<div class="t " style="left:1279.34px;top:1489px;font-size:20.75px;line-height:27px;">27 Mo<span class="n">                </span><span class="w w2">31</span></div>
<div class="t " style="left:1279.34px;top:1534px;font-size:20.75px;line-height:27px;">28 Di</div>
<div class="t " style="left:1279.34px;top:1579px;font-size:20.75px;line-height:27px;">29 Mi</div>
<div class="t " style="left:1279.34px;top:1624px;font-size:20.75px;line-height:27px;">30 Do</div>
<div class="t " style="left:1279.34px;top:1669px;font-size:20.75px;line-height:27px;">31 Fr</div>
<div class="t " style="left:1471.23px;top:322px;font-size:20.75px;line-height:27px;">1 Sa<span class="n">                 </span><span class="w">31</span></div>
<div class="t " style="left:1471.23px;top:367px;font-size:20.75px;line-height:27px;">2 So</div>
<div class="t " style="left:1471.23px;top:412px;font-size:20.75px;line-height:27px;">3 Mo<span class="n">                 </span><span class="w">32</span></div>
<div class="t " style="left:1471.23px;top:457px;font-size:20.75px;line-height:27px;">4 Di</div>
<div class="t " style="left:1471.23px;top:502px;font-size:20.75px;line-height:27px;">5 Mi</div>
<div class="t " style="left:1471.23px;top:547px;font-size:20.75px;line-height:27px;">6 Do</div>
<div class="t " style="left:1471.23px;top:591px;font-size:20.75px;line-height:27px;">7 Fr</div>
<div class="t " style="left:1471.23px;top:636px;font-size:20.75px;line-height:27px;">8 Sa</div>
<div class="t " style="left:1471.23px;top:681px;font-size:20.75px;line-height:27px;">9 So</div>
<div class="t " style="left:1471.23px;top:726px;font-size:20.75px;line-height:27px;">10 Mo<span class="n">                </span><span class="w w2">33</span></div>
<div class="t " style="left:1471.23px;top:771px;font-size:20.75px;line-height:27px;">11 Di</div>
<div class="t " style="left:1471.23px;top:816px;font-size:20.75px;line-height:27px;">12 Mi</div>
<div class="t " style="left:1471.23px;top:861px;font-size:20.75px;line-height:27px;">13 Do</div>
<div class="t " style="left:1471.23px;top:906px;font-size:20.75px;line-height:27px;">14 Fr</div>
<div class="t " style="left:1471.23px;top:951px;font-size:20.75px;line-height:27px;">15 Sa</div>
<div class="t " style="left:1471.23px;top:995px;font-size:20.75px;line-height:27px;">16 So</div>
<div class="t " style="left:1471.23px;top:1040px;font-size:20.75px;line-height:27px;">17 Mo<span class="n">                </span><span class="w w2">34</span></div>
<div class="t " style="left:1471.23px;top:1085px;font-size:20.75px;line-height:27px;">18 Di</div>
<div class="t " style="left:1471.23px;top:1130px;font-size:20.75px;line-height:27px;">19 Mi</div>
<div class="t " style="left:1471.23px;top:1175px;font-size:20.75px;line-height:27px;">20 Do</div>
<div class="t " style="left:1471.23px;top:1220px;font-size:20.75px;line-height:27px;">21 Fr</div>
<div class="t " style="left:1471.23px;top:1265px;font-size:20.75px;line-height:27px;">22 Sa</div>
<div class="t " style="left:1471.23px;top:1310px;font-size:20.75px;line-height:27px;">23 So</div>
<div class="t " style="left:1471.23px;top:1355px;font-size:20.75px;line-height:27px;">24 Mo<span class="n">                </span><span class="w w2">35</span></div>
<div class="t " style="left:1471.23px;top:1399px;font-size:20.75px;line-height:27px;">25 Di</div>
<div class="t " style="left:1471.23px;top:1444px;font-size:20.75px;line-height:27px;">26 Mi</div>
<div class="t " style="left:1471.23px;top:1489px;font-size:20.75px;line-height:27px;">27 Do</div>
<div class="t " style="left:1471.23px;top:1534px;font-size:20.75px;line-height:27px;">28 Fr</div>
<div class="t " style="left:1471.23px;top:1579px;font-size:20.75px;line-height:27px;">29 Sa</div>
<div class="t " style="left:1471.23px;top:1624px;font-size:20.75px;line-height:27px;">30 So</div>
<div class="t " style="left:1471.23px;top:1669px;font-size:20.75px;line-height:27px;">31 Mo<span class="n">                </span><span class="w w2">36</span></div>
<div class="t " style="left:1663.12px;top:322px;font-size:20.75px;line-height:27px;">1 Di<span class="n">                 </span><span class="w">36</span></div>
<div class="t " style="left:1663.12px;top:367px;font-size:20.75px;line-height:27px;">2 Mi</div>
<div class="t " style="left:1663.12px;top:412px;font-size:20.75px;line-height:27px;">3 Do</div>
<div class="t " style="left:1663.12px;top:457px;font-size:20.75px;line-height:27px;">4 Fr</div>
<div class="t " style="left:1663.12px;top:502px;font-size:20.75px;line-height:27px;">5 Sa</div>
<div class="t " style="left:1663.12px;top:547px;font-size:20.75px;line-height:27px;">6 So</div>
<div class="t " style="left:1663.12px;top:591px;font-size:20.75px;line-height:27px;">7 Mo<span class="n">                 </span><span class="w">37</span></div>
<div class="t " style="left:1663.12px;top:636px;font-size:20.75px;line-height:27px;">8 Di</div>
<div class="t " style="left:1663.12px;top:681px;font-size:20.75px;line-height:27px;">9 Mi</div>
<div class="t " style="left:1663.12px;top:726px;font-size:20.75px;line-height:27px;">10 Do</div>
<div class="t " style="left:1663.12px;top:771px;font-size:20.75px;line-height:27px;">11 Fr</div>
<div class="t " style="left:1663.12px;top:816px;font-size:20.75px;line-height:27px;">12 Sa</div>
<div class="t " style="left:1663.12px;top:861px;font-size:20.75px;line-height:27px;">13 So</div>
<div class="t " style="left:1663.12px;top:906px;font-size:20.75px;line-height:27px;">14 Mo<span class="n">                </span><span class="w w2">38</span></div>
<div class="t " style="left:1663.12px;top:951px;font-size:20.75px;line-height:27px;">15 Di</div>
<div class="t " style="left:1663.12px;top:995px;font-size:20.75px;line-height:27px;">16 Mi</div>
<div class="t " style="left:1663.12px;top:1040px;font-size:20.75px;line-height:27px;">17 Do</div>
<div class="t " style="left:1663.12px;top:1085px;font-size:20.75px;line-height:27px;">18 Fr</div>
<div class="t " style="left:1663.12px;top:1130px;font-size:20.75px;line-height:27px;">19 Sa</div>
<div class="t " style="left:1663.12px;top:1175px;font-size:20.75px;line-height:27px;">20 So</div>
<div class="t " style="left:1663.12px;top:1220px;font-size:20.75px;line-height:27px;">21 Mo<span class="n">                </span><span class="w w2">39</span></div>
<div class="t " style="left:1663.12px;top:1265px;font-size:20.75px;line-height:27px;">22 Di</div>
<div class="t " style="left:1663.12px;top:1310px;font-size:20.75px;line-height:27px;">23 Mi</div>
<div class="t " style="left:1663.12px;top:1355px;font-size:20.75px;line-height:27px;">24 Do</div>
<div class="t " style="left:1663.12px;top:1399px;font-size:20.75px;line-height:27px;">25 Fr</div>
<div class="t " style="left:1663.12px;top:1444px;font-size:20.75px;line-height:27px;">26 Sa</div>
<div class="t " style="left:1663.12px;top:1489px;font-size:20.75px;line-height:27px;">27 So</div>
<div class="t " style="left:1663.12px;top:1534px;font-size:20.75px;line-height:27px;">28 Mo<span class="n">                </span><span class="w w2">40</span></div>
<div class="t " style="left:1663.12px;top:1579px;font-size:20.75px;line-height:27px;">29 Di</div>
<div class="t " style="left:1663.12px;top:1624px;font-size:20.75px;line-height:27px;">30 Mi</div>
<div class="t " style="left:1855.01px;top:322px;font-size:20.75px;line-height:27px;">1 Do<span class="n">                 </span><span class="w">40</span></div>
<div class="t " style="left:1855.01px;top:367px;font-size:20.75px;line-height:27px;">2 Fr</div>
<div class="t r" style="left:1855.01px;top:412px;font-size:20.75px;line-height:27px;">3 Sa</div>
<div class="t " style="left:1855.01px;top:457px;font-size:20.75px;line-height:27px;">4 So</div>
<div class="t " style="left:1855.01px;top:502px;font-size:20.75px;line-height:27px;">5 Mo<span class="n">                 </span><span class="w">41</span></div>
<div class="t " style="left:1855.01px;top:547px;font-size:20.75px;line-height:27px;">6 Di</div>
<div class="t " style="left:1855.01px;top:591px;font-size:20.75px;line-height:27px;">7 Mi</div>
<div class="t " style="left:1855.01px;top:636px;font-size:20.75px;line-height:27px;">8 Do</div>
<div class="t " style="left:1855.01px;top:681px;font-size:20.75px;line-height:27px;">9 Fr</div>
<div class="t " style="left:1855.01px;top:726px;font-size:20.75px;line-height:27px;">10 Sa</div>
<div class="t " style="left:1855.01px;top:771px;font-size:20.75px;line-height:27px;">11 So</div>
<div class="t " style="left:1855.01px;top:816px;font-size:20.75px;line-height:27px;">12 Mo<span class="n">                </span><span class="w w2">42</span></div>
<div class="t " style="left:1855.01px;top:861px;font-size:20.75px;line-height:27px;">13 Di</div>
<div class="t " style="left:1855.01px;top:906px;font-size:20.75px;line-height:27px;">14 Mi</div>
<div class="t " style="left:1855.01px;top:951px;font-size:20.75px;line-height:27px;">15 Do</div>
<div class="t " style="left:1855.01px;top:995px;font-size:20.75px;line-height:27px;">16 Fr</div>
<div class="t " style="left:1855.01px;top:1040px;font-size:20.75px;line-height:27px;">17 Sa</div>
<div class="t " style="left:1855.01px;top:1085px;font-size:20.75px;line-height:27px;">18 So</div>
<div class="t " style="left:1855.01px;top:1130px;font-size:20.75px;line-height:27px;">19 Mo<span class="n">                </span><span class="w w2">43</span></div>
<div class="t " style="left:1855.01px;top:1175px;font-size:20.75px;line-height:27px;">20 Di</div>
<div class="t " style="left:1855.01px;top:1220px;font-size:20.75px;line-height:27px;">21 Mi</div>
<div class="t " style="left:1855.01px;top:1265px;font-size:20.75px;line-height:27px;">22 Do</div>
<div class="t " style="left:1855.01px;top:1310px;font-size:20.75px;line-height:27px;">23 Fr</div>
<div class="t " style="left:1855.01px;top:1355px;font-size:20.75px;line-height:27px;">24 Sa</div>
<div class="t " style="left:1855.01px;top:1399px;font-size:20.75px;line-height:27px;">25 So</div>
<div class="t " style="left:1855.01px;top:1444px;font-size:20.75px;line-height:27px;">26 Mo<span class="n">                </span><span class="w w2">44</span></div>
<div class="t " style="left:1855.01px;top:1489px;font-size:20.75px;line-height:27px;">27 Di</div>
<div class="t " style="left:1855.01px;top:1534px;font-size:20.75px;line-height:27px;">28 Mi</div>
<div class="t " style="left:1855.01px;top:1579px;font-size:20.75px;line-height:27px;">29 Do</div>
<div class="t " style="left:1855.01px;top:1624px;font-size:20.75px;line-height:27px;">30 Fr</div>
<div class="t " style="left:1855.01px;top:1669px;font-size:20.75px;line-height:27px;">31 Sa</div>
<div class="t r" style="left:2046.90px;top:322px;font-size:20.75px;line-height:27px;">1 So<span class="n">                 </span><span class="w">44</span></div>
<div class="t " style="left:2046.90px;top:367px;font-size:20.75px;line-height:27px;">2 Mo<span class="n">                 </span><span class="w">45</span></div>
<div class="t " style="left:2046.90px;top:412px;font-size:20.75px;line-height:27px;">3 Di</div>
<div class="t " style="left:2046.90px;top:457px;font-size:20.75px;line-height:27px;">4 Mi</div>
<div class="t " style="left:2046.90px;top:502px;font-size:20.75px;line-height:27px;">5 Do</div>
<div class="t " style="left:2046.90px;top:547px;font-size:20.75px;line-height:27px;">6 Fr</div>
<div class="t " style="left:2046.90px;top:591px;font-size:20.75px;line-height:27px;">7 Sa</div>
<div class="t " style="left:2046.90px;top:636px;font-size:20.75px;line-height:27px;">8 So</div>
<div class="t " style="left:2046.90px;top:681px;font-size:20.75px;line-height:27px;">9 Mo<span class="n">                 </span><span class="w">46</span></div>
<div class="t " style="left:2046.90px;top:726px;font-size:20.75px;line-height:27px;">10 Di</div>
<div class="t " style="left:2046.90px;top:771px;font-size:20.75px;line-height:27px;">11 Mi</div>
<div class="t " style="left:2046.90px;top:816px;font-size:20.75px;line-height:27px;">12 Do</div>
<div class="t " style="left:2046.90px;top:861px;font-size:20.75px;line-height:27px;">13 Fr</div>
<div class="t " style="left:2046.90px;top:906px;font-size:20.75px;line-height:27px;">14 Sa</div>
<div class="t " style="left:2046.90px;top:951px;font-size:20.75px;line-height:27px;">15 So</div>
<div class="t " style="left:2046.90px;top:995px;font-size:20.75px;line-height:27px;">16 Mo<span class="n">                </span><span class="w w2">47</span></div>
<div class="t " style="left:2046.90px;top:1040px;font-size:20.75px;line-height:27px;">17 Di</div>
<div class="t " style="left:2046.90px;top:1085px;font-size:20.75px;line-height:27px;">18 Mi</div>
<div class="t " style="left:2046.90px;top:1130px;font-size:20.75px;line-height:27px;">19 Do</div>
<div class="t " style="left:2046.90px;top:1175px;font-size:20.75px;line-height:27px;">20 Fr</div>
<div class="t " style="left:2046.90px;top:1220px;font-size:20.75px;line-height:27px;">21 Sa</div>
<div class="t " style="left:2046.90px;top:1265px;font-size:20.75px;line-height:27px;">22 So</div>
<div class="t " style="left:2046.90px;top:1310px;font-size:20.75px;line-height:27px;">23 Mo<span class="n">                </span><span class="w w2">48</span></div>
<div class="t " style="left:2046.90px;top:1355px;font-size:20.75px;line-height:27px;">24 Di</div>
<div class="t " style="left:2046.90px;top:1399px;font-size:20.75px;line-height:27px;">25 Mi</div>
<div class="t " style="left:2046.90px;top:1444px;font-size:20.75px;line-height:27px;">26 Do</div>
<div class="t " style="left:2046.90px;top:1489px;font-size:20.75px;line-height:27px;">27 Fr</div>
<div class="t " style="left:2046.90px;top:1534px;font-size:20.75px;line-height:27px;">28 Sa</div>
<div class="t " style="left:2046.90px;top:1579px;font-size:20.75px;line-height:27px;">29 So</div>
<div class="t " style="left:2046.90px;top:1624px;font-size:20.75px;line-height:27px;">30 Mo<span class="n">                </span><span class="w w2">49</span></div>
<div class="t " style="left:2238.79px;top:322px;font-size:20.75px;line-height:27px;">1 Di<span class="n">                 </span><span class="w">49</span></div>
<div class="t " style="left:2238.79px;top:367px;font-size:20.75px;line-height:27px;">2 Mi</div>
<div class="t " style="left:2238.79px;top:412px;font-size:20.75px;line-height:27px;">3 Do</div>
<div class="t " style="left:2238.79px;top:457px;font-size:20.75px;line-height:27px;">4 Fr</div>
<div class="t " style="left:2238.79px;top:502px;font-size:20.75px;line-height:27px;">5 Sa</div>
<div class="t " style="left:2238.79px;top:547px;font-size:20.75px;line-height:27px;">6 So</div>
<div class="t " style="left:2238.79px;top:591px;font-size:20.75px;line-height:27px;">7 Mo<span class="n">                 </span><span class="w">50</span></div>
<div class="t " style="left:2238.79px;top:636px;font-size:20.75px;line-height:27px;">8 Di</div>
<div class="t " style="left:2238.79px;top:681px;font-size:20.75px;line-height:27px;">9 Mi</div>
<div class="t " style="left:2238.79px;top:726px;font-size:20.75px;line-height:27px;">10 Do</div>
<div class="t " style="left:2238.79px;top:771px;font-size:20.75px;line-height:27px;">11 Fr</div>
<div class="t " style="left:2238.79px;top:816px;font-size:20.75px;line-height:27px;">12 Sa</div>
<div class="t " style="left:2238.79px;top:861px;font-size:20.75px;line-height:27px;">13 So</div>
<div class="t " style="left:2238.79px;top:906px;font-size:20.75px;line-height:27px;">14 Mo<span class="n">                </span><span class="w w2">51</span></div>
<div class="t " style="left:2238.79px;top:951px;font-size:20.75px;line-height:27px;">15 Di</div>
<div class="t " style="left:2238.79px;top:995px;font-size:20.75px;line-height:27px;">16 Mi</div>
<div class="t " style="left:2238.79px;top:1040px;font-size:20.75px;line-height:27px;">17 Do</div>
<div class="t " style="left:2238.79px;top:1085px;font-size:20.75px;line-height:27px;">18 Fr</div>
<div class="t " style="left:2238.79px;top:1130px;font-size:20.75px;line-height:27px;">19 Sa</div>
<div class="t " style="left:2238.79px;top:1175px;font-size:20.75px;line-height:27px;">20 So</div>
<div class="t " style="left:2238.79px;top:1220px;font-size:20.75px;line-height:27px;">21 Mo<span class="n">                </span><span class="w w2">52</span></div>
<div class="t " style="left:2238.79px;top:1265px;font-size:20.75px;line-height:27px;">22 Di</div>
<div class="t " style="left:2238.79px;top:1310px;font-size:20.75px;line-height:27px;">23 Mi</div>
<div class="t " style="left:2238.79px;top:1355px;font-size:20.75px;line-height:27px;">24 Do</div>
<div class="t r" style="left:2238.79px;top:1399px;font-size:20.75px;line-height:27px;">25 Fr</div>
<div class="t r" style="left:2238.79px;top:1444px;font-size:20.75px;line-height:27px;">26 Sa</div>
<div class="t " style="left:2238.79px;top:1489px;font-size:20.75px;line-height:27px;">27 So</div>
<div class="t " style="left:2238.79px;top:1534px;font-size:20.75px;line-height:27px;">28 Mo<span class="n">                </span><span class="w w2">53</span></div>
<div class="t " style="left:2238.79px;top:1579px;font-size:20.75px;line-height:27px;">29 Di</div>
<div class="t " style="left:2238.79px;top:1624px;font-size:20.75px;line-height:27px;">30 Mi</div>
<div class="t " style="left:2238.79px;top:1669px;font-size:20.75px;line-height:27px;">31 Do</div>
</div>
</body></html>
